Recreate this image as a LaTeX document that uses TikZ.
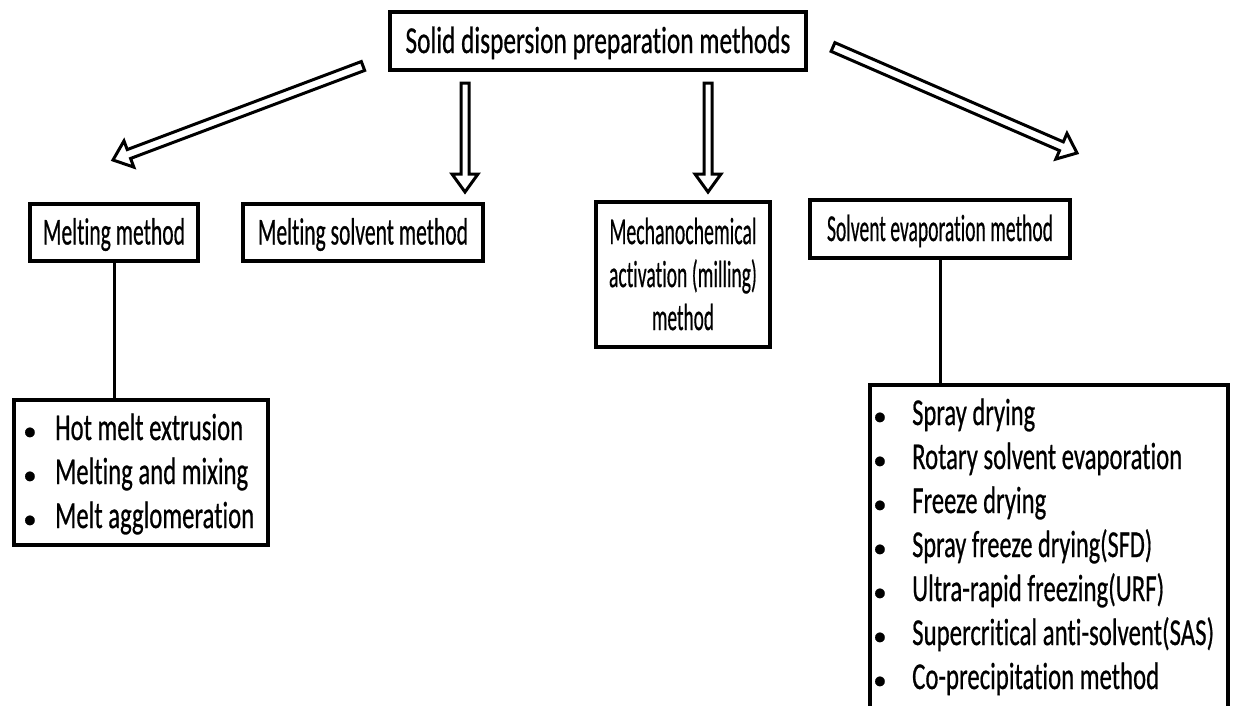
\documentclass[tikz,border=0pt]{standalone}
\usepackage{fontspec}
\usepackage{graphicx}
\setmainfont{Carlito}[Ligatures=NoCommon, RawFeature={embolden=0.7}]
\usetikzlibrary{calc}
\newcommand\fw[2]{\resizebox{#1pt}{\height}{#2}}
\newcommand\bul{{\fontsize{27}{27}\selectfont\textbullet}}
\newcommand\blockarrow[6]{%
  \coordinate (#3h) at ($(#2)!#6pt!(#1)$);
  \draw[blockarr] ($(#1)!#4pt!90:(#2)$) -- ($(#3h)!#4pt!90:(#2)$) -- ($(#3h)!#5pt!90:(#2)$) -- (#2) -- ($(#3h)!#5pt!-90:(#2)$) -- ($(#3h)!#4pt!-90:(#2)$) -- ($(#1)!#4pt!-90:(#2)$) -- cycle;}
\begin{document}
\begin{tikzpicture}[x=1pt,y=-1pt,
  box/.style={draw, line width=4pt, inner sep=0pt, font=\fontsize{38}{43}\selectfont},
  onebox/.style={box, text height=29pt, text depth=5pt},
  conn/.style={line width=3pt},
  blockarr/.style={draw, fill=white, line width=3pt, line join=miter},
  listtext/.style={anchor=base west, inner sep=0pt, font=\fontsize{38}{44}\selectfont}]
\useasboundingbox (0,0) rectangle (1243,705);
\fill[white] (0,0) rectangle (1243,705);
\clip (0,0) rectangle (1243,705);
% boxes
\node[onebox, minimum width=416pt, minimum height=58pt] (top) at (598,41) {\fw{385}{Solid dispersion preparation methods}};
\node[onebox, minimum width=168pt, minimum height=57pt] (mm) at (114,232.5) {\fw{142}{Melting method}};
\node[onebox, minimum width=240pt, minimum height=57pt] (msm) at (363,232.5) {\fw{210}{Melting solvent method}};
\node[box, align=center, minimum width=174pt, minimum height=145pt] (mech) at (683,274) {\fw{147}{Mechanochemical}\\\fw{148}{activation (milling)}\\\fw{62}{method}};
\node[onebox, minimum width=260pt, minimum height=58pt] (sem) at (940,229) {\fw{226}{Solvent evaporation method}};
\node[box, minimum width=254pt, minimum height=145pt] (lb) at (141,472.5) {};
\node[box, minimum width=358pt, minimum height=335pt] (rb) at (1049,552.5) {};
% list texts
\node[listtext] (lbt) at (23,440) {\begin{tabular}[t]{@{}l@{}l@{}}
\makebox[32pt][l]{\bul} & \fw{188}{Hot melt extrusion}\\
\makebox[32pt][l]{\bul} & \fw{193}{Melting and mixing}\\
\makebox[32pt][l]{\bul} & \fw{199}{Melt agglomeration}
\end{tabular}};
\node[listtext] (rbt) at (873,425) {\begin{tabular}[t]{@{}l@{}l@{}}
\makebox[39pt][l]{\bul} & \fw{123}{Spray drying}\\
\makebox[39pt][l]{\bul} & \fw{270}{Rotary solvent evaporation}\\
\makebox[39pt][l]{\bul} & \fw{134}{Freeze drying}\\
\makebox[39pt][l]{\bul} & \fw{240}{Spray freeze drying(SFD)}\\
\makebox[39pt][l]{\bul} & \fw{252}{Ultra-rapid freezing(URF)}\\
\makebox[39pt][l]{\bul} & \fw{302}{Supercritical anti-solvent(SAS)}\\
\makebox[39pt][l]{\bul} & \fw{247}{Co-precipitation method}
\end{tabular}};
% connectors
\draw[conn] (mm.south) -- (mm.south |- lb.north);
\draw[conn] (sem.south) -- (sem.south |- rb.north);
% block arrows
\coordinate (a1t) at (363,66); \coordinate (a1h) at (113,160);
\coordinate (a2t) at (465,83); \coordinate (a2h) at (465,192);
\coordinate (a3t) at (708,83); \coordinate (a3h) at (708,192);
\coordinate (a4t) at (833,47); \coordinate (a4h) at (1077,153);
\blockarrow{a1t}{a1h}{ha}{4.75}{14}{17}
\blockarrow{a2t}{a2h}{hb}{4}{13}{18}
\blockarrow{a3t}{a3h}{hc}{4}{13}{18}
\blockarrow{a4t}{a4h}{hd}{4.75}{14}{17}
\end{tikzpicture}
\end{document}
